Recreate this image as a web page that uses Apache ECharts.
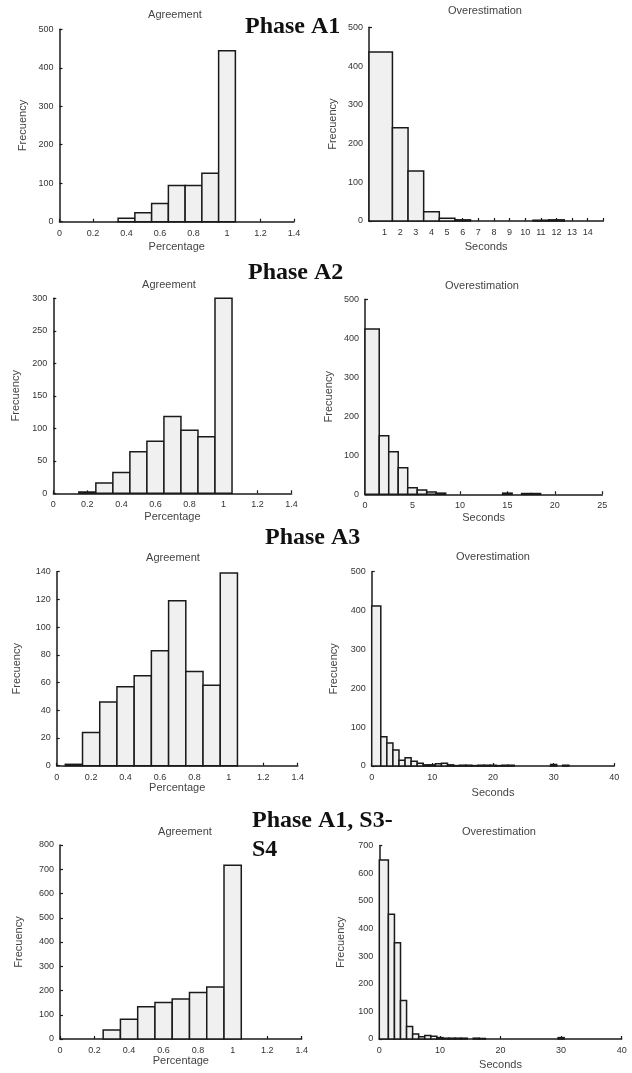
<!DOCTYPE html>
<html>
<head>
<meta charset="utf-8">
<script src="https://cdn.jsdelivr.net/npm/echarts@6/dist/echarts.min.js"></script>
<style>
  html, body { margin: 0; padding: 0; background: #fff; }
  #chart { width: 632px; height: 1073px; }
</style>
</head>
<body>
<div id="chart"></div>
<script>
// agreement histograms: bins of width 0.1 centred on these values
var agreeCenters = [0.1, 0.2, 0.3, 0.4, 0.5, 0.6, 0.7, 0.8, 0.9, 1.0];
var a1Agree  = [0, 0, 0, 9, 23, 47, 94, 94, 126, 444];
var a2Agree  = [0, 2, 16, 32, 64, 80, 118, 97, 87, 300];
var a3Agree  = [1, 24, 46, 57, 65, 83, 119, 68, 58, 139];
var s34Agree = [0, 0, 37, 81, 133, 151, 165, 192, 214, 717];

// overestimation histograms (seconds)
var overLo = [0, 1.5, 2.5, 3.5, 4.5, 5.5, 6.5, 7.5, 8.5, 9.5, 10.5, 11.5, 12.5, 13.5, 14.5, 15.5,
              16.5, 17.5, 18.5, 19.5, 20.5, 21.5, 22.5, 23.5, 24.5, 25.5, 26.5, 27.5, 28.5, 29.5, 30.5, 31.5];
var overHi = [1.5, 2.5, 3.5, 4.5, 5.5, 6.5, 7.5, 8.5, 9.5, 10.5, 11.5, 12.5, 13.5, 14.5, 15.5, 16.5,
              17.5, 18.5, 19.5, 20.5, 21.5, 22.5, 23.5, 24.5, 25.5, 26.5, 27.5, 28.5, 29.5, 30.5, 31.5, 32.5];
var a1Over  = [436, 241, 129, 24, 7, 3, 0, 0, 0, 0, 2, 3, 0, 0, 0, 0, 0, 0, 0, 0, 0, 0, 0, 0, 0, 0, 0, 0, 0, 0, 0, 0];
var a2Over  = [424, 150, 109, 68, 17, 11, 6, 3, 0, 0, 0, 0, 0, 0, 3, 0, 2, 2, 0, 0, 0, 0, 0, 0, 0, 0, 0, 0, 0, 0, 0, 0];
var a3Over  = [412, 75, 59, 41, 15, 21, 12, 7, 3, 3, 6, 7, 3, 1, 2, 2, 1, 2, 2, 2, 1, 2, 2, 0, 0, 0, 0, 0, 0, 4, 0, 2];
var s34Over = [648, 452, 349, 139, 45, 18, 8, 13, 10, 5, 3, 3, 3, 3, 0, 3, 2, 0, 0, 0, 0, 0, 0, 0, 0, 0, 0, 0, 0, 5, 0, 0];

var phaseTitles = ['Phase A1', 'Phase A2', 'Phase A3', 'Phase A1, S3-', 'S4'];
var panelTitles = ['Agreement', 'Overestimation'];
var xNames = ['Percentage', 'Seconds'];
var yName = 'Frecuency';

function agreeBins(counts) {
  var out = [];
  for (var i = 0; i < counts.length; i++) {
    if (counts[i] > 0) out.push([agreeCenters[i] - 0.05, agreeCenters[i] + 0.05, counts[i]]);
  }
  return out;
}
function overBins(counts) {
  var out = [];
  for (var i = 0; i < counts.length; i++) {
    if (counts[i] > 0) out.push([overLo[i], overHi[i], counts[i]]);
  }
  return out;
}

// panel layout: grid box, axes ranges, label offsets
var panels = [
  {g: [59.5, 29.3, 234.5, 192.4], x: [0, 1.4, 0.2], y: [500, 100], data: agreeBins(a1Agree), t: 0, tp: [175, 15], ng: 20, yg: 31},
  {g: [369, 27.3, 234.3, 193.7], x: [0, 15, 1], y: [500, 100], data: overBins(a1Over), t: 1, tp: [485, 11], ng: 20, yg: 31, hideEnds: true},
  {g: [53.3, 298.3, 238.3, 195], x: [0, 1.4, 0.2], y: [300, 50], data: agreeBins(a2Agree), t: 0, tp: [169, 285], ng: 18, yg: 32},
  {g: [365, 299.3, 237.3, 195], x: [0, 25, 5], y: [500, 100], data: overBins(a2Over), t: 1, tp: [482, 286], ng: 18, yg: 31},
  {g: [56.7, 571.7, 241, 194], x: [0, 1.4, 0.2], y: [140, 20], data: agreeBins(a3Agree), t: 0, tp: [173, 558], ng: 10, yg: 34},
  {g: [371.7, 571.7, 242.6, 194.3], x: [0, 40, 10], y: [500, 100], data: overBins(a3Over), t: 1, tp: [493, 557], ng: 21, yg: 32},
  {g: [60, 845, 241.7, 194], x: [0, 1.4, 0.2], y: [800, 100], data: agreeBins(s34Agree), t: 0, tp: [185, 832], ng: 15, yg: 36},
  {g: [379.3, 845.7, 242.4, 193.3], x: [0, 40, 10], y: [700, 100], data: overBins(s34Over), t: 1, tp: [499, 832], ng: 20, yg: 33}
];

var sans = 'Liberation Sans, Arial, sans-serif';
var axisCol = '#1a1a1a';
var textCol = '#444';

function renderBin(params, api) {
  var p0 = api.coord([api.value(0), api.value(2)]);
  var p1 = api.coord([api.value(1), 0]);
  return {
    type: 'rect',
    shape: {x: p0[0], y: p0[1], width: p1[0] - p0[0], height: p1[1] - p0[1]},
    style: {fill: '#f0f0f0', stroke: '#1a1a1a', lineWidth: 1.5}
  };
}

var grids = [], xAxes = [], yAxes = [], series = [], texts = [];
panels.forEach(function (p, i) {
  grids.push({left: p.g[0], top: p.g[1], width: p.g[2], height: p.g[3], containLabel: false});
  xAxes.push({
    type: 'value', gridIndex: i, min: p.x[0], max: p.x[1], interval: p.x[2],
    name: xNames[p.t], nameLocation: 'middle', nameGap: p.ng,
    nameTextStyle: {fontFamily: sans, fontSize: 11, color: textCol},
    axisLine: {show: true, onZero: false, lineStyle: {color: axisCol, width: 1.5}},
    axisTick: {show: true, inside: true, length: 3, lineStyle: {color: axisCol, width: 1.2}},
    axisLabel: {
      fontFamily: sans, fontSize: 9, color: '#333', margin: 7,
      formatter: p.hideEnds ? function (v) { return (v === 0 || v === 15) ? '' : String(v); } : null
    },
    splitLine: {show: false}
  });
  yAxes.push({
    type: 'value', gridIndex: i, min: 0, max: p.y[0], interval: p.y[1],
    name: yName, nameLocation: 'middle', nameGap: p.yg,
    nameTextStyle: {fontFamily: sans, fontSize: 11, color: textCol},
    axisLine: {show: true, lineStyle: {color: axisCol, width: 1.5}},
    axisTick: {show: true, inside: true, length: 3, lineStyle: {color: axisCol, width: 1.2}},
    axisLabel: {fontFamily: sans, fontSize: 9, color: '#333', margin: 6},
    splitLine: {show: false}
  });
  series.push({
    type: 'custom', xAxisIndex: i, yAxisIndex: i,
    renderItem: renderBin, encode: {x: [0, 1], y: 2},
    data: p.data, silent: true
  });
  texts.push({
    type: 'text', x: p.tp[0], y: p.tp[1],
    style: {text: panelTitles[p.t], fontFamily: sans, fontSize: 11, fill: textCol, align: 'center', verticalAlign: 'middle'}
  });
});

var serif = 'Liberation Serif, Times New Roman, serif';
var phasePos = [[245, 27], [248, 273], [265, 538], [252, 821], [252, 850]];
phaseTitles.forEach(function (t, i) {
  texts.push({
    type: 'text', x: phasePos[i][0], y: phasePos[i][1],
    style: {text: t, fontFamily: serif, fontWeight: 'bold', fontSize: 24, fill: '#111', align: 'left', verticalAlign: 'middle'}
  });
});

var chart = echarts.init(document.getElementById('chart'));
chart.setOption({
  backgroundColor: '#fff',
  animation: false,
  grid: grids,
  xAxis: xAxes,
  yAxis: yAxes,
  series: series,
  graphic: texts
});
</script>
</body>
</html>
